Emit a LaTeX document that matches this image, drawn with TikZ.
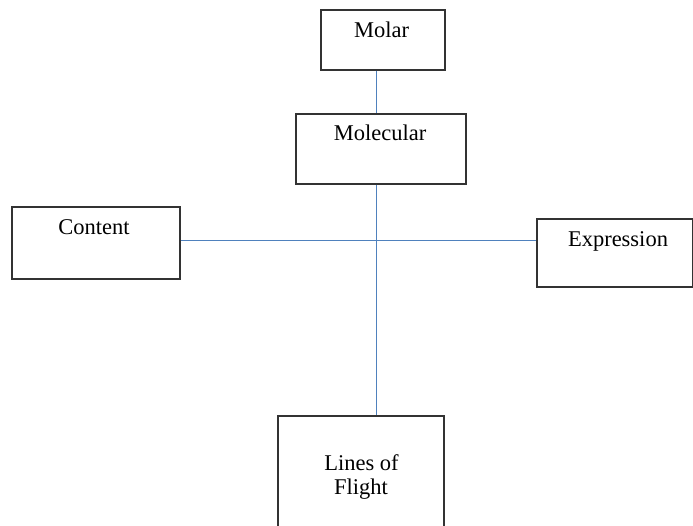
\documentclass[tikz,border=0pt]{standalone}
\usepackage{fontspec}
\setmainfont{Liberation Serif}
\begin{document}
\begin{tikzpicture}[x=1pt,y=-1pt,
  box/.style={draw=black!80,line width=1.3pt,fill=white,inner sep=0pt},
  lbl/.style={anchor=base,inner sep=0pt,font=\fontsize{22.5}{26}\selectfont},
  link/.style={draw={rgb,255:red,79;green,129;blue,189},line width=1pt}]
\useasboundingbox (0,0) rectangle (693,525);
\clip (0,0) rectangle (693,525);
\coordinate (c) at (376,240.5);
\node[box,minimum width=124pt,minimum height=60pt] (molar) at (383,40) {};
\node[box,minimum width=170pt,minimum height=70pt] (molecular) at (381,149) {};
\node[box,minimum width=168pt,minimum height=72pt] (content) at (96,243) {};
\node[box,minimum width=156pt,minimum height=68pt] (expr) at (615,253) {};
\node[box,minimum width=166pt,minimum height=130pt] (lines) at (361,481) {};
\draw[link] (c |- molar.south) -- (c |- molecular.north);
\draw[link] (c |- molecular.south) -- (c |- lines.north);
\draw[link] (content.east |- c) -- (expr.west |- c);
\node[lbl] (t1) at (381.5,37) {Molar};
\node[lbl] (t2) at (380,140) {Molecular};
\node[lbl] (t3) at (94,234) {Content};
\node[lbl] (t4) at (618,246) {Expression};
\node[lbl] (t5) at (361.5,470) {Lines of};
\node[lbl] (t6) at (361,494) {Flight};
\end{tikzpicture}
\end{document}
